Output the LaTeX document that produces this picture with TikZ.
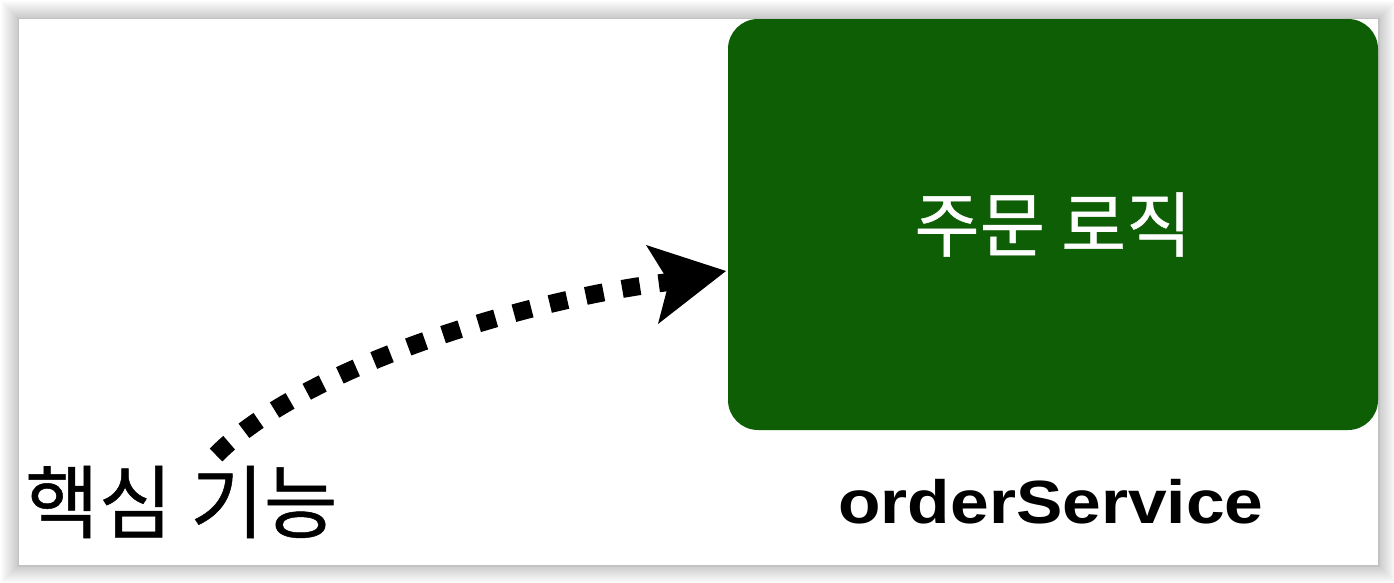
\documentclass[tikz,border=0pt]{standalone}
\usepackage{fontspec}
\setmainfont{Liberation Sans}
\newfontfamily\krfont{Noto Sans CJK KR}[FakeBold=0.6]
\definecolor{boxgreen}{RGB}{13,94,5}
\tikzset{
  x=1pt, y=-1pt,
  greenbox/.style={fill=boxgreen, draw=none, rounded corners=30pt, inner sep=0pt,
    minimum width=650pt, minimum height=411pt, text=white,
    font=\krfont\fontsize{71}{75}\selectfont},
  caption/.style={inner sep=0pt, text=black},
  flowline/.style={line width=18pt, dash pattern=on 18pt off 19pt, line cap=butt},
}
\begin{document}
\begin{tikzpicture}
\useasboundingbox (0,0) rectangle (1394,582);
\fill[white] (0,0) rectangle (1394,582);
% drop shadow of the frame
\foreach \i in {1,...,18}{
  \fill[black, opacity=0.011] (19-\i,19-\i) rectangle (1378+\i,565+\i);
}
\fill[black, opacity=0.04] (17.5,17.5) rectangle (1379.5,566.5);
\fill[white] (19,19) rectangle (1378,565);

\node[greenbox] (box) at (1053,224.5) {\raisebox{4pt}{주문 로직}};
\node[caption, anchor=base, font=\bfseries\fontsize{61}{64}\selectfont] (svc) at (1051,523) {\scalebox{1.14}[1]{orderService}};
\node[caption, anchor=base west, font=\krfont\fontsize{80}{84}\selectfont] (core) at (25,532) {핵심 기능};

\coordinate (start) at (216,455);
\coordinate (notch) at (669,282);
\coordinate (tip) at (726,271);
\coordinate (wingA) at (646,245);
\coordinate (wingB) at (658,324);

\draw[flowline] (start) .. controls (300,370) and (520,300) .. (notch);
\fill[black] (notch) -- (wingA) -- (tip) -- (wingB) -- cycle;
\end{tikzpicture}
\end{document}
